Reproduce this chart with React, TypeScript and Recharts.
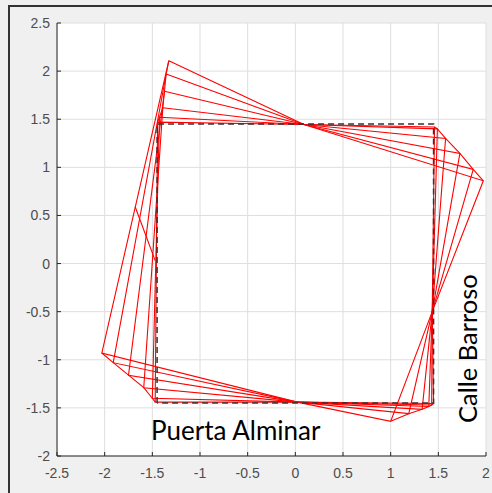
import { CartesianGrid, Scatter, ScatterChart, XAxis, YAxis } from "recharts";

type Pt = { x: number; y: number };

const ticksX = [-2.5, -2, -1.5, -1, -0.5, 0, 0.5, 1, 1.5, 2];
const ticksY = [-2, -1.5, -1, -0.5, 0, 0.5, 1, 1.5, 2, 2.5];

// corner positions of each rotated outline, innermost first
const topLeft: Pt[] = [
  { x: -1.445, y: 1.47 },
  { x: -1.425, y: 1.52 },
  { x: -1.39, y: 1.62 },
  { x: -1.373, y: 1.79 },
  { x: -1.355, y: 1.97 },
  { x: -1.327, y: 2.108 },
];
const topRight: Pt[] = [
  { x: 1.46, y: 1.42 },
  { x: 1.49, y: 1.4 },
  { x: 1.576, y: 1.3 },
  { x: 1.726, y: 1.145 },
  { x: 1.866, y: 0.978 },
  { x: 1.972, y: 0.86 },
];
const bottomRight: Pt[] = [
  { x: 1.45, y: -1.455 },
  { x: 1.43, y: -1.47 },
  { x: 1.4, y: -1.485 },
  { x: 1.33, y: -1.515 },
  { x: 1.19, y: -1.56 },
  { x: 1.0, y: -1.64 },
];
const bottomLeft: Pt[] = [
  { x: -1.47, y: -1.44 },
  { x: -1.5, y: -1.4 },
  { x: -1.59, y: -1.29 },
  { x: -1.75, y: -1.16 },
  { x: -1.91, y: -1.03 },
  { x: -2.03, y: -0.93 },
];

const topPivot: Pt = { x: 0.09, y: 1.445 };
const rightPivot: Pt = { x: 1.436, y: -0.5 };
const bottomPivot: Pt = { x: 0.02, y: -1.44 };

const strayLine: Pt[] = [
  { x: -1.68, y: 0.59 },
  { x: -1.47, y: 0.03 },
];

const square: Pt[] = [
  { x: -1.45, y: -1.45 },
  { x: -1.45, y: 1.45 },
  { x: 1.45, y: 1.45 },
  { x: 1.45, y: -1.45 },
  { x: -1.45, y: -1.45 },
];

const outlines = topLeft.map((tl, i) => [
  tl,
  topPivot,
  topRight[i],
  rightPivot,
  bottomRight[i],
  bottomPivot,
  bottomLeft[i],
  tl,
]);
const cornerPaths = [topLeft, topRight, bottomRight, bottomLeft];

const RED = "#ff0000";
const noDot = () => <g />;

const XTick = (props: any) => {
  const { x, y, payload } = props;
  return (
    <g>
      <line x1={x} y1={y} x2={x} y2={y - 4} stroke="#262626" />
      <text x={x} y={y + 22} textAnchor="middle" fontSize={14} fill="#4d4d4d" fontFamily="Liberation Sans, Arial">
        {payload.value}
      </text>
    </g>
  );
};

const YTick = (props: any) => {
  const { x, y, payload } = props;
  return (
    <g>
      <line x1={x} y1={y} x2={x + 4} y2={y} stroke="#262626" />
      <text x={x - 7} y={y + 5} textAnchor="end" fontSize={14} fill="#4d4d4d" fontFamily="Liberation Sans, Arial">
        {payload.value}
      </text>
    </g>
  );
};

export default function App() {
  return (
    <div style={{ position: "fixed", left: 0, top: 0, width: 492, height: 493, background: "#f0f0f0" }}>
      <div
        style={{
          position: "absolute",
          left: 8,
          top: 5,
          width: 484,
          height: 488,
          borderLeft: "2px solid #333",
          borderTop: "2px solid #333",
        }}
      />
      <ScatterChart width={492} height={493} margin={{ top: 23, right: 6, bottom: 0, left: 12 }}>
        <CartesianGrid stroke="#dedede" fill="#ffffff" />
        <XAxis
          type="number"
          dataKey="x"
          domain={[-2.5, 2]}
          ticks={ticksX}
          allowDataOverflow
          height={37}
          tickSize={0}
          tickMargin={0}
          tickLine={false}
          axisLine={{ stroke: "#262626" }}
          tick={<XTick />}
        />
        <YAxis
          type="number"
          dataKey="y"
          domain={[-2, 2.5]}
          ticks={ticksY}
          allowDataOverflow
          width={45}
          tickSize={0}
          tickMargin={0}
          tickLine={false}
          axisLine={{ stroke: "#262626" }}
          tick={<YTick />}
        />
        {outlines.map((pts, i) => (
          <Scatter
            key={`o${i}`}
            data={pts}
            fill={RED}
            line={{ stroke: RED, strokeWidth: 1.1 }}
            lineJointType="linear"
            shape={noDot}
            isAnimationActive={false}
          />
        ))}
        {cornerPaths.map((pts, i) => (
          <Scatter
            key={`c${i}`}
            data={pts}
            fill={RED}
            line={{ stroke: RED, strokeWidth: 1.1 }}
            lineJointType="linear"
            shape={noDot}
            isAnimationActive={false}
          />
        ))}
        <Scatter
          data={strayLine}
          fill={RED}
          line={{ stroke: RED, strokeWidth: 1.1 }}
          shape={noDot}
          isAnimationActive={false}
        />
        <Scatter
          data={square}
          fill="#333"
          line={{ stroke: "#333", strokeWidth: 1.5, strokeDasharray: "6 4" }}
          shape={noDot}
          isAnimationActive={false}
        />
      </ScatterChart>
      <svg width={492} height={493} style={{ position: "absolute", left: 0, top: 0, pointerEvents: "none" }}>
        <text x={151} y={440} fontSize={26} fontFamily="Lato" fill="#000">
          Puerta Alminar
        </text>
        <text x={477} y={423} fontSize={25.5} fontFamily="Lato" fill="#000" transform="rotate(-90 477 423)">
          Calle Barroso
        </text>
      </svg>
    </div>
  );
}
